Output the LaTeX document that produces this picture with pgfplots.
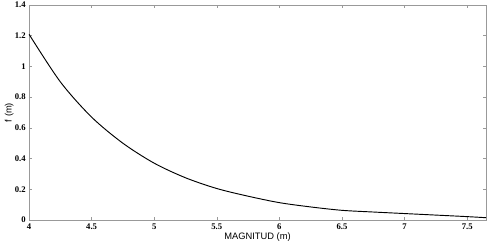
\documentclass[border=0pt]{standalone}
\usepackage{fontspec}
\setmainfont{Liberation Serif}
\newfontfamily\labfont{Liberation Sans}
\usepackage{pgfplots}
\pgfplotsset{compat=1.18}
\begin{document}
\begin{tikzpicture}[x=1pt,y=1pt]
\useasboundingbox (0,0) rectangle (366,186);
\begin{axis}[
  at={(21.75pt,21pt)}, anchor=south west,
  scale only axis, width=342.75pt, height=161.25pt,
  xmin=4, xmax=7.65, ymin=0, ymax=1.4,
  xtick={4,4.5,5,5.5,6,6.5,7,7.5},
  ytick={0,0.2,0.4,0.6,0.8,1,1.2,1.4},
  tick align=inside, major tick length=2.5pt,
  axis line style={gray!80}, every tick/.style={gray!80},
  tick label style={font=\bfseries\fontsize{6.5}{7}\selectfont},
  /pgf/number format/assume math mode=true,
  xticklabel style={yshift=0.8pt},
  yticklabel style={xshift=1pt},
  xlabel={\labfont\fontsize{7}{8}\selectfont MAGNITUD (m)},
  ylabel={\labfont\fontsize{7}{8}\selectfont f (m)},
  xlabel style={yshift=4.5pt},
  ylabel style={yshift=-6pt},
]
\addplot[black, line width=0.7pt, smooth] coordinates {
(4,1.21) (4.25,0.90) (4.5,0.67) (4.75,0.50) (5,0.37) (5.25,0.275) (5.5,0.205)
(5.75,0.155) (6,0.113) (6.25,0.085) (6.5,0.063) (6.75,0.052) (7,0.042)
(7.25,0.032) (7.5,0.022) (7.65,0.015)
};
\end{axis}
\end{tikzpicture}
\end{document}
